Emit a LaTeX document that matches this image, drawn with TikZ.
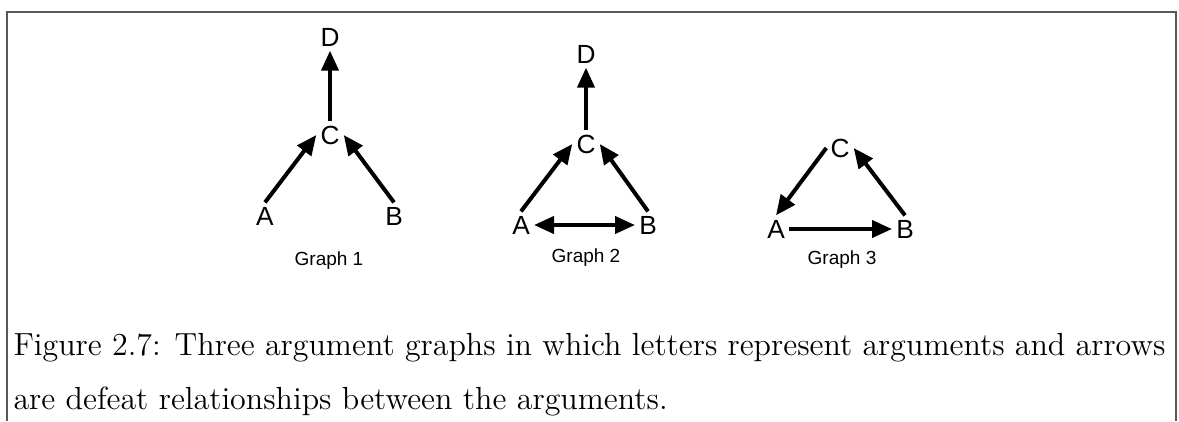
\documentclass[tikz,border=0pt]{standalone}
\usepackage{fontspec}
\newfontfamily\graphfont{Liberation Sans}
\usetikzlibrary{arrows.meta}

\begin{document}
\begin{tikzpicture}[
    x=0.4pt, y=-0.4pt,
    letter/.style={font=\graphfont\fontsize{10.5}{10.5}\selectfont, inner sep=1.5pt, text height=7.5pt, text depth=0pt},
    gtitle/.style={font=\graphfont\fontsize{7.6}{9}\selectfont, inner sep=0pt},
    caption/.style={text width=460.8pt, align=justify, inner sep=0pt, font=\fontsize{12.8}{21.6}\selectfont},
    arr/.style={-{Triangle[length=8pt, width=6.8pt]}, line width=1.6pt},
    frame/.style={draw=black!65, line width=0.8pt}
]
\useasboundingbox (0,0) rectangle (1179,421);
\draw[frame] (6.5,421) -- (6.5,11.5) -- (1176,11.5) -- (1176,421);

\node[letter] (d1) at (330,37) {D};
\node[letter] (c1) at (330,135) {C};
\node[letter] (a1) at (265,216) {A};
\node[letter] (b1) at (394,216) {B};
\node[gtitle] (g1) at (329,261) {Graph 1};
\draw[arr] (c1.north) -- (d1.south);
\draw[arr] (a1.north) -- (c1.west);
\draw[arr] (b1.north) -- (c1.east);

\node[letter] (d2) at (586,54) {D};
\node[letter] (c2) at (586,144) {C};
\node[letter] (a2) at (521,225) {A};
\node[letter] (b2) at (648,225) {B};
\node[gtitle] (g2) at (586,258) {Graph 2};
\draw[arr] (c2.north) -- (d2.south);
\draw[arr] (a2.north) -- (c2.west);
\draw[arr] (b2.north) -- (c2.east);
\draw[arr, {Triangle[length=8pt, width=6.8pt]}-{Triangle[length=8pt, width=6.8pt]}] (a2.east) -- (b2.west);

\node[letter] (c3) at (840,148) {C};
\node[letter] (a3) at (776,229) {A};
\node[letter] (b3) at (905,229) {B};
\node[gtitle] (g3) at (842,260) {Graph 3};
\draw[arr] (c3.west) -- (a3.north);
\draw[arr] (b3.north) -- (c3.east);
\draw[arr] (a3.east) -- (b3.west);

\node[caption, anchor=base west] (cap) at (13,355) {Figure 2.7: Three argument graphs in which letters represent arguments and arrows are defeat relationships between the arguments.};
\end{tikzpicture}
\end{document}
